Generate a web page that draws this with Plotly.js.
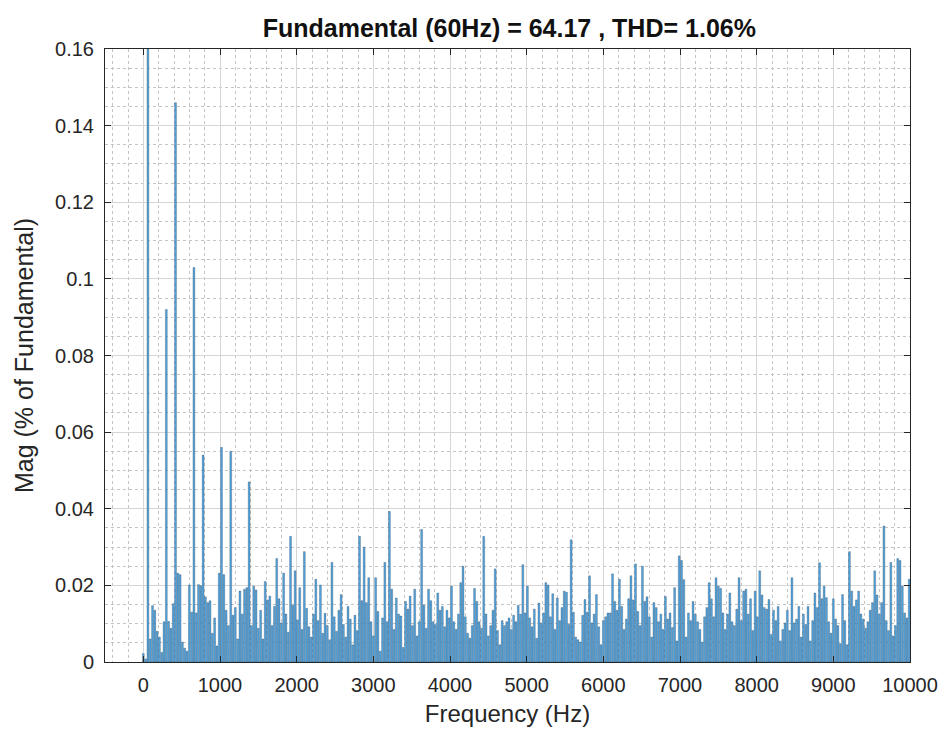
<!DOCTYPE html>
<html>
<head>
<meta charset="utf-8">
<script src="https://cdn.plot.ly/plotly-3.0.1.min.js"></script>
<style>
  html, body { margin: 0; padding: 0; background: #ffffff; }
  #chart { width: 952px; height: 738px; }
</style>
</head>
<body>
<div id="chart"></div>
<script>
// Frequency bins (Hz), 30 Hz resolution, 0 .. 9990
const binStep = 30;
// Magnitudes (% of fundamental), one row = 10 bins (300 Hz)
const magnitudes = [
  0.0022, 0.0008, 100,    0.0060, 0.0147, 0.0135, 0.0080, 0.0065, 0.0025, 0.0105,
  0.0920, 0.0106, 0.0088, 0.0152, 0.1460, 0.0232, 0.0228, 0.0052, 0.0036, 0.0028,
  0.0201, 0.0130, 0.1030, 0.0128, 0.0202, 0.0199, 0.0540, 0.0170, 0.0155, 0.0160,
  0.0075, 0.0115, 0.0042, 0.0232, 0.0560, 0.0228, 0.0135, 0.0095, 0.0550, 0.0122,
  0.0142, 0.0060, 0.0185, 0.0125, 0.0190, 0.0194, 0.0470, 0.0095, 0.0198, 0.0188,
  0.0088, 0.0135, 0.0060, 0.0210, 0.0162, 0.0172, 0.0095, 0.0145, 0.0270, 0.0165,
  0.0102, 0.0232, 0.0125, 0.0078, 0.0328, 0.0148, 0.0238, 0.0110, 0.0194, 0.0085,
  0.0288, 0.0140, 0.0092, 0.0065, 0.0125, 0.0216, 0.0108, 0.0201, 0.0075, 0.0127,
  0.0095, 0.0058, 0.0260, 0.0118, 0.0080, 0.0135, 0.0176, 0.0098, 0.0065, 0.0145,
  0.0112, 0.0045, 0.0122, 0.0082, 0.0328, 0.0160, 0.0300, 0.0155, 0.0220, 0.0105,
  0.0068, 0.0220, 0.0132, 0.0028, 0.0115, 0.0260, 0.0105, 0.0393, 0.0190, 0.0085,
  0.0167, 0.0125, 0.0120, 0.0038, 0.0158, 0.0138, 0.0172, 0.0095, 0.0190, 0.0068,
  0.0105, 0.0346, 0.0148, 0.0088, 0.0190, 0.0160, 0.0105, 0.0098, 0.0180, 0.0135,
  0.0145, 0.0092, 0.0135, 0.0115, 0.0198, 0.0105, 0.0085, 0.0125, 0.0207, 0.0250,
  0.0118, 0.0075, 0.0062, 0.0095, 0.0192, 0.0158, 0.0105, 0.0088, 0.0328, 0.0125,
  0.0068, 0.0095, 0.0135, 0.0243, 0.0082, 0.0045, 0.0108, 0.0095, 0.0105, 0.0115,
  0.0085, 0.0122, 0.0105, 0.0148, 0.0125, 0.0254, 0.0128, 0.0198, 0.0115, 0.0092,
  0.0138, 0.0062, 0.0154, 0.0102, 0.0128, 0.0207, 0.0201, 0.0118, 0.0178, 0.0085,
  0.0167, 0.0108, 0.0142, 0.0185, 0.0182, 0.0098, 0.0319, 0.0130, 0.0065, 0.0058,
  0.0052, 0.0122, 0.0163, 0.0130, 0.0225, 0.0102, 0.0125, 0.0176, 0.0092, 0.0045,
  0.0108, 0.0118, 0.0128, 0.0128, 0.0230, 0.0158, 0.0135, 0.0216, 0.0145, 0.0085,
  0.0112, 0.0165, 0.0225, 0.0162, 0.0256, 0.0132, 0.0095, 0.0250, 0.0158, 0.0170,
  0.0118, 0.0065, 0.0155, 0.0142, 0.0105, 0.0125, 0.0085, 0.0171, 0.0112, 0.0128,
  0.0090, 0.0194, 0.0055, 0.0277, 0.0265, 0.0215, 0.0065, 0.0128, 0.0108, 0.0158,
  0.0125, 0.0105, 0.0085, 0.0052, 0.0118, 0.0142, 0.0207, 0.0165, 0.0118, 0.0220,
  0.0198, 0.0192, 0.0128, 0.0085, 0.0125, 0.0180, 0.0105, 0.0095, 0.0138, 0.0220,
  0.0108, 0.0185, 0.0190, 0.0125, 0.0165, 0.0082, 0.0185, 0.0118, 0.0238, 0.0175,
  0.0142, 0.0138, 0.0163, 0.0072, 0.0135, 0.0108, 0.0145, 0.0055, 0.0085, 0.0102,
  0.0135, 0.0082, 0.0220, 0.0102, 0.0112, 0.0145, 0.0065, 0.0125, 0.0098, 0.0145,
  0.0055, 0.0108, 0.0180, 0.0142, 0.0259, 0.0165, 0.0198, 0.0168, 0.0105, 0.0075,
  0.0165, 0.0112, 0.0095, 0.0048, 0.0176, 0.0108, 0.0045, 0.0288, 0.0185, 0.0145,
  0.0162, 0.0185, 0.0125, 0.0112, 0.0088, 0.0105, 0.0135, 0.0155, 0.0238, 0.0175,
  0.0125, 0.0155, 0.0355, 0.0108, 0.0082, 0.0260, 0.0068, 0.0095, 0.0270, 0.0265,
  0.0198, 0.0128, 0.0115, 0.0216
];
const frequencies = magnitudes.map((_, i) => i * binStep);

const xTickVals = [0, 1000, 2000, 3000, 4000, 5000, 6000, 7000, 8000, 9000, 10000];
const xTickText = ["0", "1000", "2000", "3000", "4000", "5000", "6000", "7000", "8000", "9000", "10000"];
const yTickVals = [0, 0.02, 0.04, 0.06, 0.08, 0.1, 0.12, 0.14, 0.16];
const yTickText = ["0", "0.02", "0.04", "0.06", "0.08", "0.1", "0.12", "0.14", "0.16"];

const titleText = "Fundamental (60Hz) = 64.17 , THD= 1.06%";
const xTitle = "Frequency (Hz)";
const yTitle = "Mag (% of Fundamental)";

const fontFam = "Liberation Sans, Arial, Helvetica, sans-serif";

const trace = {
  type: "bar",
  x: frequencies,
  y: magnitudes,
  marker: {
    color: "rgb(82,166,224)",
    line: { color: "rgba(25,45,70,0.55)", width: 0.5 }
  },
  hoverinfo: "x+y"
};

const axisCommon = {
  showline: true,
  linecolor: "#262626",
  linewidth: 1,
  mirror: "ticks",
  ticks: "inside",
  ticklen: 6,
  tickcolor: "#262626",
  showgrid: true,
  gridcolor: "#d6d6d6",
  gridwidth: 1,
  zeroline: false,
  tickfont: { family: fontFam, size: 20, color: "#262626" },
  tickmode: "array"
};

const layout = {
  width: 952,
  height: 738,
  margin: { l: 105, r: 42, t: 49, b: 76 },
  paper_bgcolor: "#ffffff",
  plot_bgcolor: "#ffffff",
  bargap: 0.2,
  showlegend: false,
  title: {
    text: "<b>" + titleText + "</b>",
    font: { family: fontFam, size: 25, color: "#111111" },
    x: 0.535, xanchor: "center",
    y: 0.962, yanchor: "middle"
  },
  xaxis: Object.assign({}, axisCommon, {
    range: [-500, 10000],
    tickvals: xTickVals,
    ticktext: xTickText,
    ticklabelstandoff: 5,
    minor: { dtick: 200, showgrid: true, gridcolor: "#c4c4c4", griddash: "dot", gridwidth: 1 },
    title: { text: xTitle, font: { family: fontFam, size: 24, color: "#262626" }, standoff: 10 }
  }),
  yaxis: Object.assign({}, axisCommon, {
    range: [0, 0.16],
    tickvals: yTickVals,
    ticktext: yTickText,
    ticklabelstandoff: 6,
    minor: { dtick: 0.005, showgrid: true, gridcolor: "#c4c4c4", griddash: "dot", gridwidth: 1 },
    title: { text: yTitle, font: { family: fontFam, size: 25, color: "#262626" }, standoff: 14 }
  })
};

Plotly.newPlot("chart", [trace], layout, { displayModeBar: false, staticPlot: true });
</script>
</body>
</html>
